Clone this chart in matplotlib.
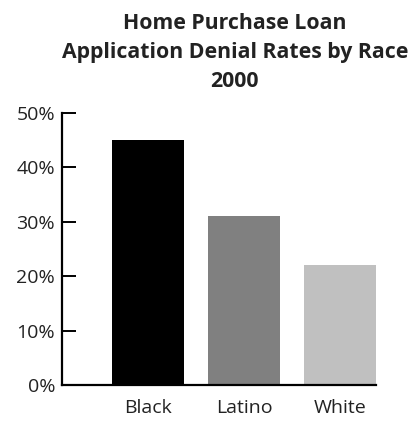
import matplotlib.pyplot as plt

races = ["Black", "Latino", "White"]
denial_rates = [45, 31, 22]
bar_colors = ["#000000", "#808080", "#c0c0c0"]
y_ticks = [0, 10, 20, 30, 40, 50]
y_tick_labels = ["0%", "10%", "20%", "30%", "40%", "50%"]

plt.rcParams['font.family'] = ['Open Sans', 'DejaVu Sans']

fig = plt.figure(figsize=(4.12, 4.21), dpi=100)
ax = fig.add_axes([0.1505, 0.0855, 0.7621, 0.6468])

x = list(range(len(races)))
ax.bar(x, denial_rates, width=0.75, color=bar_colors)

ax.set_xlim(-0.896, 2.375)
ax.set_ylim(0, 50)
ax.set_yticks(y_ticks)
ax.set_yticklabels(y_tick_labels, fontsize=14, color="#222222")
ax.set_xticks(x)
ax.set_xticklabels(races, fontsize=14, color="#222222")

ax.tick_params(axis='y', direction='in', length=10, width=1.4, pad=5)
ax.tick_params(axis='x', length=0, pad=10)

for side in ["top", "right"]:
    ax.spines[side].set_visible(False)
for side in ["left", "bottom"]:
    ax.spines[side].set_linewidth(1.6)

fig.text(0.57, 0.968, "Home Purchase Loan\nApplication Denial Rates by Race\n2000",
         ha='center', va='top', fontsize=15.3, fontweight='bold',
         color="#222222", linespacing=1.5)

fig.savefig("out.png", dpi=100)
